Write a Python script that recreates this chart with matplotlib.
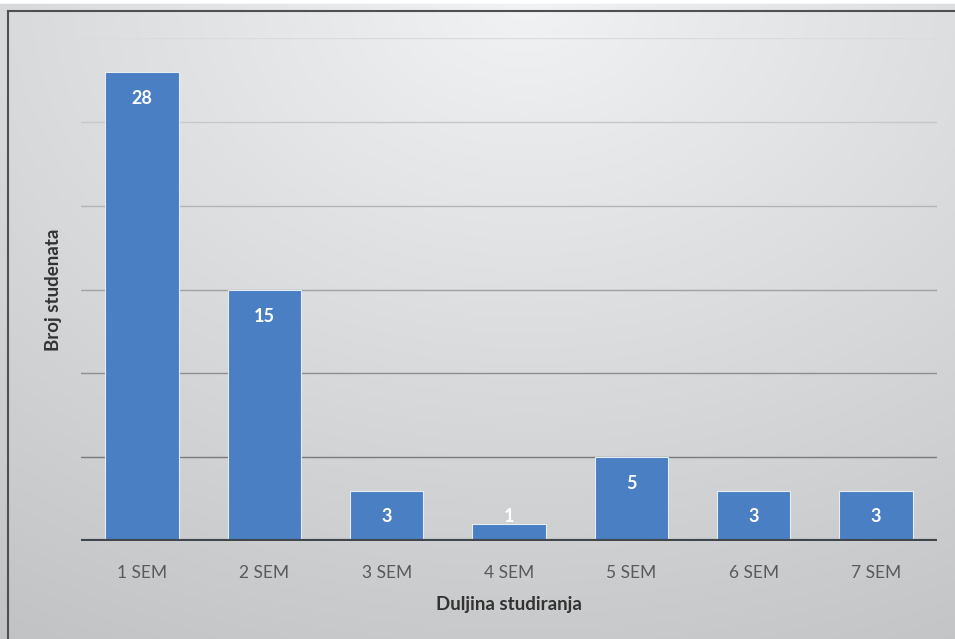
import numpy as np
import matplotlib.pyplot as plt
from matplotlib.lines import Line2D

categories = ['1 SEM', '2 SEM', '3 SEM', '4 SEM', '5 SEM', '6 SEM', '7 SEM']
students = [28, 15, 3, 1, 5, 3, 3]
grid_values = [5, 10, 15, 20, 25, 30]

plt.rcParams['font.family'] = ['Lato', 'DejaVu Sans']

W, H = 955, 639
fig = plt.figure(figsize=(W / 100, H / 100), dpi=100)

# gradient background (light top centre, darker towards bottom/left)
bg = fig.add_axes([0, 0, 1, 1], zorder=0)
yy, xx = np.mgrid[0:1:200j, 0:1:300j]
dist = np.sqrt(((xx - 0.55) * 1.1) ** 2 + (yy * 1.0) ** 2)
shade = 0.95 - 0.16 * np.clip(dist, 0, 1.2)
rgb = np.dstack([shade - 0.005, shade, shade + 0.005])
bg.imshow(np.clip(rgb, 0, 1), aspect='auto', extent=[0, 1, 1, 0], interpolation='bilinear')
bg.set_xlim(0, 1)
bg.set_ylim(1, 0)
bg.axis('off')

# outer frame (top and left visible)
fig.add_artist(Line2D([8 / W, 8 / W], [0, 1 - 11 / H], color='#505050', lw=1.5))
fig.add_artist(Line2D([8 / W, 1], [1 - 11 / H, 1 - 11 / H], color='#505050', lw=1.5))
fig.add_artist(Line2D([0, 1], [1 - 1 / H, 1 - 1 / H], color='white', lw=4))

ax = fig.add_axes([81 / W, 1 - 541 / H, (937 - 81) / W, (541 - 38) / H], zorder=1)
ax.patch.set_alpha(0)
x = np.arange(len(categories))
ax.set_xlim(-0.5, len(categories) - 0.5)
ax.set_ylim(0, 30)

for g in grid_values:
    c = 0.86 - 0.38 * (30 - g) / 25
    ax.axhline(g, color=(c, c, c), lw=1.0, zorder=1)

ax.bar(x, students, width=0.6, color='#4a7fc3', edgecolor='#e6ecf4', linewidth=0.8, zorder=2)
ax.axhline(0, color='#3f474d', lw=3, zorder=3)

for xi, v in zip(x, students):
    ax.text(xi, max(v - 1.6, 1.45), str(v), ha='center', va='center',
            color='white', fontsize=13, fontweight='bold', zorder=4)

for s in ax.spines.values():
    s.set_visible(False)
ax.set_yticks([])
ax.set_xticks(x)
ax.set_xticklabels(categories, fontsize=12.5, color='#5a5a5a')
ax.tick_params(axis='x', length=0, pad=17)

ax.set_xlabel('Duljina studiranja', fontsize=13.5, fontweight='bold', color='#333333', labelpad=11)
ax.set_ylabel('Broj studenata', fontsize=13.5, fontweight='bold', color='#333333', labelpad=14)

fig.savefig('out.png', dpi=100)
